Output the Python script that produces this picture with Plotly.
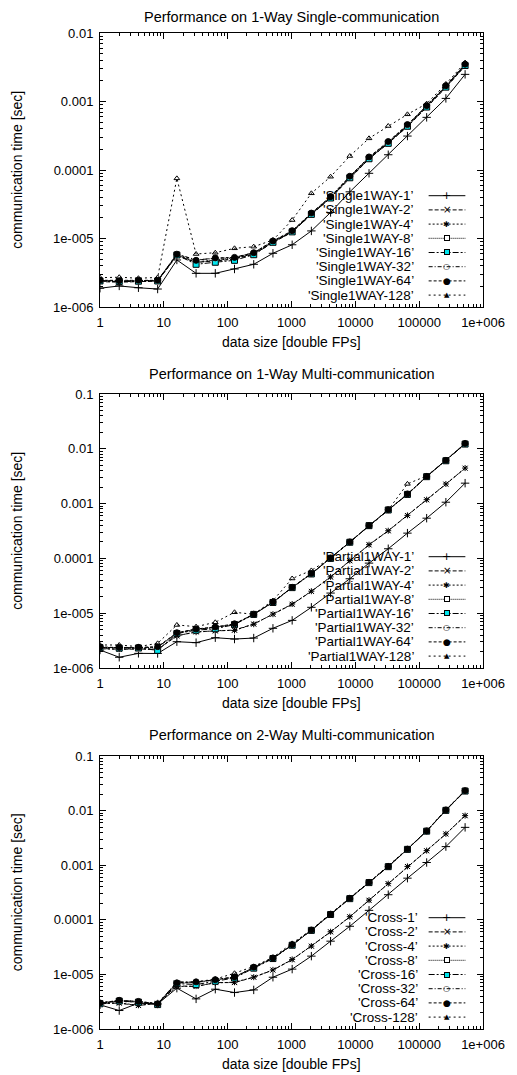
import plotly.graph_objects as go

# ---------------- data ----------------
sizes = [1, 2, 4, 8, 16, 32, 64, 128, 256, 512, 1024, 2048, 4096, 8192,
         16384, 32768, 65536, 131072, 262144, 524288]

single_1 = [1.88e-6, 2.03e-6, 1.91e-6, 1.83e-6, 4.86e-6, 3.1e-6, 3.1e-6, 3.59e-6, 4.2e-6, 6.08e-6,
            8.1e-6, 1.29e-5, 2.4e-5, 4.8e-5, 8.95e-5, 1.67e-4, 3.13e-4, 5.87e-4, 1.11e-3, 2.49e-3]
single_2 = [2.35e-6, 2.3e-6, 2.35e-6, 2.38e-6, 5.6e-6, 4.5e-6, 4.7e-6, 5.0e-6, 5.9e-6, 8.7e-6,
            1.24e-5, 2.25e-5, 3.9e-5, 7.6e-5, 1.45e-4, 2.47e-4, 4.3e-4, 8.2e-4, 1.6e-3, 3.3e-3]
single_4 = [2.4e-6, 2.35e-6, 2.4e-6, 2.42e-6, 5.7e-6, 4.6e-6, 4.8e-6, 5.1e-6, 6.0e-6, 8.9e-6,
            1.26e-5, 2.28e-5, 3.95e-5, 7.8e-5, 1.48e-4, 2.5e-4, 4.4e-4, 8.4e-4, 1.64e-3, 3.4e-3]
single_8 = [2.43e-6, 2.37e-6, 2.4e-6, 2.45e-6, 5.8e-6, 4.4e-6, 4.9e-6, 5.2e-6, 6.1e-6, 9.0e-6,
            1.27e-5, 2.3e-5, 4.0e-5, 7.9e-5, 1.5e-4, 2.52e-4, 4.45e-4, 8.5e-4, 1.66e-3, 3.45e-3]
single_16 = [2.4e-6, 2.35e-6, 2.38e-6, 2.4e-6, 5.75e-6, 4.2e-6, 4.5e-6, 4.8e-6, 5.8e-6, 8.8e-6,
             1.25e-5, 2.25e-5, 3.9e-5, 7.7e-5, 1.46e-4, 2.45e-4, 4.35e-4, 8.3e-4, 1.62e-3, 3.35e-3]
single_32 = [2.45e-6, 2.4e-6, 2.42e-6, 2.43e-6, 5.9e-6, 4.9e-6, 5.1e-6, 5.3e-6, 6.2e-6, 9.1e-6,
             1.28e-5, 2.32e-5, 4.05e-5, 8.0e-5, 1.52e-4, 2.55e-4, 4.5e-4, 8.6e-4, 1.68e-3, 3.5e-3]
single_64 = [2.45e-6, 2.42e-6, 2.45e-6, 2.45e-6, 5.9e-6, 4.8e-6, 5.2e-6, 5.3e-6, 6.2e-6, 9.2e-6,
             1.3e-5, 2.35e-5, 4.1e-5, 8.1e-5, 1.55e-4, 2.6e-4, 4.6e-4, 8.7e-4, 1.7e-3, 3.5e-3]
single_128 = [2.68e-6, 2.72e-6, 2.63e-6, 2.7e-6, 7.55e-5, 5.94e-6, 6.2e-6, 7.19e-6, 7.6e-6, 9.5e-6,
              1.86e-5, 4.57e-5, 7.98e-5, 1.6e-4, 2.9e-4, 4.39e-4, 6.5e-4, 9.3e-4, 1.8e-3, 3.7e-3]

partial_1 = [2.13e-6, 1.57e-6, 1.85e-6, 1.84e-6, 3.02e-6, 2.9e-6, 3.57e-6, 3.38e-6, 3.52e-6, 5.3e-6,
             7.4e-6, 1.28e-5, 2.33e-5, 4.25e-5, 8.2e-5, 1.5e-4, 2.89e-4, 5.42e-4, 1.06e-3, 2.36e-3]
partial_2 = [2.28e-6, 2.19e-6, 2.22e-6, 2.19e-6, 3.84e-6, 4.6e-6, 4.73e-6, 4.93e-6, 6.35e-6, 9.55e-6,
             1.45e-5, 2.5e-5, 4.56e-5, 9.04e-5, 1.77e-4, 3.18e-4, 6.06e-4, 1.17e-3, 2.26e-3, 4.42e-3]
partial_4 = [2.25e-6, 2.2e-6, 2.25e-6, 2.2e-6, 3.9e-6, 4.5e-6, 4.8e-6, 4.85e-6, 6.3e-6, 9.6e-6,
             1.47e-5, 2.52e-5, 4.6e-5, 9.1e-5, 1.78e-4, 3.2e-4, 6.1e-4, 1.18e-3, 2.28e-3, 4.45e-3]
partial_8 = [2.38e-6, 2.35e-6, 2.3e-6, 2.38e-6, 4.3e-6, 5.08e-6, 5.53e-6, 6.27e-6, 9.55e-6, 1.58e-5,
             2.95e-5, 5.24e-5, 1.01e-4, 1.98e-4, 3.98e-4, 7.69e-4, 1.48e-3, 3.11e-3, 6.1e-3, 1.23e-2]
partial_16 = [2.35e-6, 2.3e-6, 2.32e-6, 2.1e-6, 4.25e-6, 4.9e-6, 5.2e-6, 6.2e-6, 9.5e-6, 1.57e-5,
              2.93e-5, 5.2e-5, 1.0e-4, 1.97e-4, 3.96e-4, 7.65e-4, 1.47e-3, 3.1e-3, 6.05e-3, 1.22e-2]
partial_32 = [2.4e-6, 2.33e-6, 2.35e-6, 2.4e-6, 4.35e-6, 5.1e-6, 5.5e-6, 6.3e-6, 9.6e-6, 1.59e-5,
              2.96e-5, 5.26e-5, 1.02e-4, 1.99e-4, 4.0e-4, 7.7e-4, 1.49e-3, 3.12e-3, 6.12e-3, 1.24e-2]
partial_64 = [2.42e-6, 2.36e-6, 2.38e-6, 2.45e-6, 4.4e-6, 5.15e-6, 5.6e-6, 6.4e-6, 9.6e-6, 1.6e-5,
              2.97e-5, 5.3e-5, 1.02e-4, 2.0e-4, 4.0e-4, 7.75e-4, 1.5e-3, 3.13e-3, 6.15e-3, 1.25e-2]
partial_128 = [2.63e-6, 2.63e-6, 2.45e-6, 2.82e-6, 6.1e-6, 5.68e-6, 6.82e-6, 1.04e-5, 9.55e-6, 1.7e-5,
               4.3e-5, 6.03e-5, 1.01e-4, 1.98e-4, 3.98e-4, 7.69e-4, 2.29e-3, 3.2e-3, 6.1e-3, 1.26e-2]

cross_1 = [2.77e-6, 2.18e-6, 2.97e-6, 2.87e-6, 5.6e-6, 3.56e-6, 5.36e-6, 4.65e-6, 5.2e-6, 8.87e-6,
           1.25e-5, 2.16e-5, 4.06e-5, 7.61e-5, 1.49e-4, 2.88e-4, 5.79e-4, 1.12e-3, 2.19e-3, 4.93e-3]
cross_2 = [2.97e-6, 2.97e-6, 2.69e-6, 2.97e-6, 6.17e-6, 5.99e-6, 7.08e-6, 7.08e-6, 8.87e-6, 1.2e-5,
           1.86e-5, 3.29e-5, 6.0e-5, 1.13e-4, 2.27e-4, 4.57e-4, 9.46e-4, 1.83e-3, 3.72e-3, 8.05e-3]
cross_4 = [2.9e-6, 3.0e-6, 2.72e-6, 2.95e-6, 6.0e-6, 6.1e-6, 7.0e-6, 7.2e-6, 8.9e-6, 1.21e-5,
           1.88e-5, 3.3e-5, 6.05e-5, 1.14e-4, 2.29e-4, 4.6e-4, 9.5e-4, 1.85e-3, 3.75e-3, 8.1e-3]
cross_8 = [2.97e-6, 3.32e-6, 3.18e-6, 2.87e-6, 6.9e-6, 7.08e-6, 7.92e-6, 8.87e-6, 1.33e-5, 1.98e-5,
           3.46e-5, 6.44e-5, 1.26e-4, 2.46e-4, 4.83e-4, 9.46e-4, 1.96e-3, 4.23e-3, 1.02e-2, 2.3e-2]
cross_16 = [2.9e-6, 3.25e-6, 3.1e-6, 2.8e-6, 6.8e-6, 6.5e-6, 7.5e-6, 8.6e-6, 1.3e-5, 1.95e-5,
            3.42e-5, 6.4e-5, 1.25e-4, 2.44e-4, 4.8e-4, 9.4e-4, 1.95e-3, 4.2e-3, 1.01e-2, 2.28e-2]
cross_32 = [3.0e-6, 3.3e-6, 3.2e-6, 2.9e-6, 7.3e-6, 7.2e-6, 8.0e-6, 8.9e-6, 1.34e-5, 2.0e-5,
            3.48e-5, 6.5e-5, 1.27e-4, 2.47e-4, 4.85e-4, 9.5e-4, 1.97e-3, 4.25e-3, 1.02e-2, 2.31e-2]
cross_64 = [3.0e-6, 3.35e-6, 3.2e-6, 2.9e-6, 7.0e-6, 7.3e-6, 8.0e-6, 9.0e-6, 1.35e-5, 2.0e-5,
            3.5e-5, 6.5e-5, 1.27e-4, 2.48e-4, 4.86e-4, 9.5e-4, 1.97e-3, 4.25e-3, 1.03e-2, 2.32e-2]
cross_128 = [3.05e-6, 3.2e-6, 3.1e-6, 2.95e-6, 7.1e-6, 7.3e-6, 8.2e-6, 1.05e-5, 1.4e-5, 2.05e-5,
             3.7e-5, 6.6e-5, 1.3e-4, 2.5e-4, 4.9e-4, 9.8e-4, 1.98e-3, 4.25e-3, 1.03e-2, 2.32e-2]

panel_titles = ["Performance on 1-Way Single-communication",
                "Performance on 1-Way Multi-communication",
                "Performance on 2-Way Multi-communication"]
series_prefixes = ["Single1WAY", "Partial1WAY", "Cross"]
series_suffixes = ["1", "2", "4", "8", "16", "32", "64", "128"]
panel_series = [
    [single_1, single_2, single_4, single_8, single_16, single_32, single_64, single_128],
    [partial_1, partial_2, partial_4, partial_8, partial_16, partial_32, partial_64, partial_128],
    [cross_1, cross_2, cross_4, cross_8, cross_16, cross_32, cross_64, cross_128],
]

x_tickvals = [1, 10, 100, 1000, 10000, 100000, 1000000]
x_ticktext = ["1", "10", "100", "1000", "10000", "100000", "1e+006"]
y_tickvals_1 = [1e-6, 1e-5, 1e-4, 1e-3, 1e-2]
y_ticktext_1 = ["1e-006", "1e-005", "0.0001", "0.001", "0.01"]
y_tickvals_2 = [1e-6, 1e-5, 1e-4, 1e-3, 1e-2, 1e-1]
y_ticktext_2 = ["1e-006", "1e-005", "0.0001", "0.001", "0.01", "0.1"]

# ---------------- styles ----------------
dashes = ["solid", "4px,2px", "2px,2px", "1px,1px", "6px,2px,2px,2px", "4px,2px,1px,2px", "3px,2px", "2px,3px"]
symbols = ["cross-thin-open", "x-thin-open", "asterisk-open", "square-open", "square",
           "circle-open", "circle", "triangle-up-open"]
msizes = [6, 5, 5, 6, 6, 5, 6, 5]
mfill = ["black", "black", "black", "white", "#00e5ee", "white", "black", "black"]

FONT = "Liberation Sans, Arial, Helvetica, sans-serif"
FS_TICK = 13
FS_TITLE = 14.5
FS_AXT = 14
FS_LEG = 13.5

# geometry in screen pixels; the page body adds an 8px offset
OFF = 8
W, H = 517 - OFF, 1075 - OFF
PLOT_L, PLOT_R = 100, 491
PLOT_T, PLOT_B = 33, 1029
L = PLOT_L - OFF
T = PLOT_T - OFF
R = W - L - (PLOT_R - PLOT_L)
B = H - T - (PLOT_B - PLOT_T)
panels_px = [(33, 307), (394, 668), (756, 1029)]
title_px = [17, 374, 735]


def px(xs):
    return (xs - PLOT_L) / (PLOT_R - PLOT_L)


def py(ys):
    return (PLOT_B - ys) / (PLOT_B - PLOT_T)


fig = go.Figure()
shapes = []
annotations = []

minor_vals = [m * 10 ** k for k in range(-7, 7) for m in range(2, 10)]

# legend key glyphs (text markers) for the gnuplot-style key
key_glyph = ["+", "\u00d7", "\u2731", None, None, "\u25cb", "\u25cf", "\u25b2"]
key_glyph_size = [11, 10, 8, 0, 0, 8, 9, 7]
text_right = [423, 423, 427]

for p in range(3):
    xa = "x" if p == 0 else f"x{p+1}"
    ya = "y" if p == 0 else f"y{p+1}"
    top_px, bot_px = panels_px[p]
    for i, vals in enumerate(panel_series[p]):
        name = "'" + series_prefixes[p] + "-" + series_suffixes[i] + "\u2019"
        fig.add_trace(go.Scatter(
            x=sizes, y=vals, mode="lines+markers", name=name,
            xaxis=xa, yaxis=ya, showlegend=False,
            line=dict(color="black", width=1, dash=dashes[i]),
            marker=dict(symbol=symbols[i], size=msizes[i], color=mfill[i],
                        line=dict(color="black", width=1)),
        ))
        # gnuplot-style key entry
        ys = bot_px - 111.3 + 14.2 * i
        annotations.append(dict(text=name, xref="paper", yref="paper",
                                x=px(text_right[p]), y=py(ys), xanchor="right", yanchor="middle",
                                showarrow=False,
                                font=dict(family=FONT, size=FS_LEG, color="black")))
        shapes.append(dict(type="line", xref="paper", yref="paper",
                           x0=px(435.5), x1=px(473), y0=py(ys), y1=py(ys),
                           line=dict(color="black", width=1, dash=dashes[i])))
        if key_glyph[i] is not None:
            annotations.append(dict(text=key_glyph[i], xref="paper", yref="paper",
                                    x=px(454), y=py(ys), xanchor="center", yanchor="middle",
                                    showarrow=False,
                                    font=dict(family="DejaVu Sans", size=key_glyph_size[i],
                                              color="black")))
        else:
            annotations.append(dict(text=" ", xref="paper", yref="paper",
                                    x=px(454), y=py(ys), xanchor="center", yanchor="middle",
                                    showarrow=False, width=4, height=4,
                                    bgcolor=mfill[i], bordercolor="black", borderwidth=1,
                                    borderpad=0, font=dict(size=1)))

    dom = [py(bot_px), py(top_px)]
    axis_common = dict(
        type="log", showline=True, linecolor="black", linewidth=1, mirror="ticks",
        ticks="inside", ticklen=6, tickcolor="black", tickwidth=1,
        showgrid=False, zeroline=False,
        tickfont=dict(family=FONT, size=FS_TICK, color="black"),
        minor=dict(ticks="inside", ticklen=3, tickcolor="black", tickwidth=1,
                   tickmode="array", tickvals=minor_vals, showgrid=False),
    )
    xkey = "xaxis" if p == 0 else f"xaxis{p+1}"
    ykey = "yaxis" if p == 0 else f"yaxis{p+1}"
    fig.layout[xkey] = dict(axis_common, domain=[0, 1], anchor=ya, range=[0, 6],
                            tickmode="array", tickvals=x_tickvals, ticktext=x_ticktext,
                            ticklabelstandoff=3)
    if p == 0:
        fig.layout[ykey] = dict(axis_common, domain=dom, anchor=xa, range=[-6, -2],
                                tickmode="array", tickvals=y_tickvals_1, ticktext=y_ticktext_1,
                                ticklabelstandoff=3)
    else:
        fig.layout[ykey] = dict(axis_common, domain=dom, anchor=xa, range=[-6, -1],
                                tickmode="array", tickvals=y_tickvals_2, ticktext=y_ticktext_2,
                                ticklabelstandoff=3)

    # titles
    annotations.append(dict(text=panel_titles[p], xref="paper", yref="paper",
                            x=px(296), y=py(title_px[p]), showarrow=False,
                            xanchor="center", yanchor="middle",
                            font=dict(family=FONT, size=FS_TITLE, color="black")))
    annotations.append(dict(text="data size [double FPs]", xref="paper", yref="paper",
                            x=px(296), y=py(bot_px + 35), showarrow=False,
                            xanchor="center", yanchor="middle",
                            font=dict(family=FONT, size=FS_AXT, color="black")))
    annotations.append(dict(text="communication time [sec]", xref="paper", yref="paper",
                            x=px(15), y=py((top_px + bot_px) / 2), showarrow=False,
                            textangle=-90, xanchor="center", yanchor="middle",
                            font=dict(family=FONT, size=FS_AXT, color="black")))

fig.update_layout(
    width=W, height=H,
    margin=dict(l=L, r=R, t=T, b=B),
    paper_bgcolor="white", plot_bgcolor="white",
    font=dict(family=FONT, size=FS_TICK, color="black"),
    showlegend=False,
    shapes=shapes,
    annotations=annotations,
)

fig.write_html("out.html")
